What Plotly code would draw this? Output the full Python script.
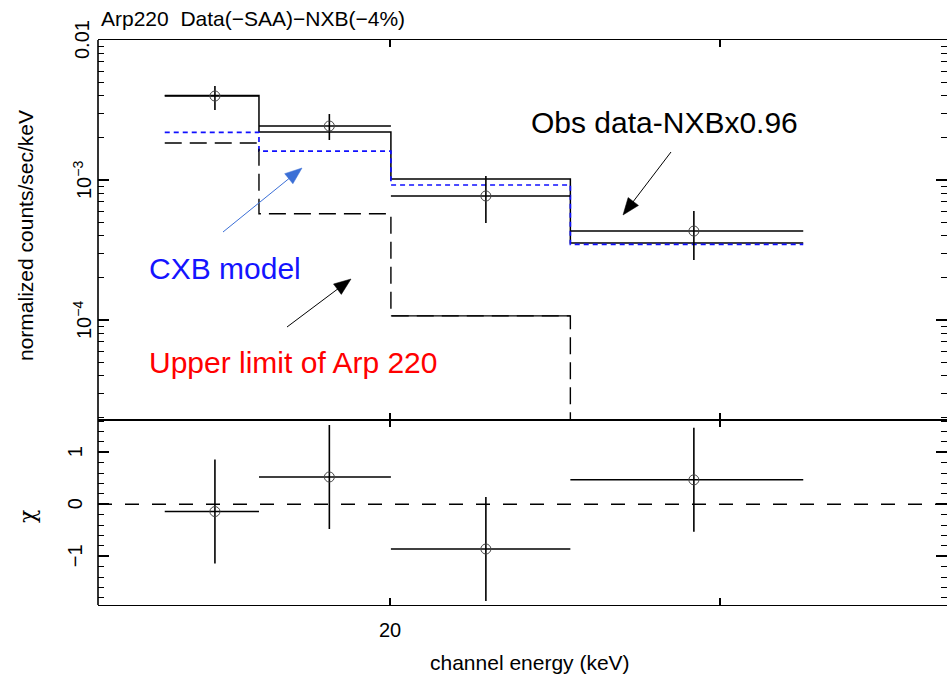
import math
import plotly.graph_objects as go

# ---- spectrum, grouped channels (keV) ----
bin_edges = [10.7, 13.9, 20.05, 33.0, 63.0]
bin_centers = [12.3, 16.9, 26.1, 46.5]

# normalized counts/sec/keV
data_rate = [3.98e-3, 2.43e-3, 7.69e-4, 4.32e-4]
data_hi = [4.69e-3, 2.96e-3, 1.07e-3, 6.01e-4]
data_lo = [3.16e-3, 1.93e-3, 4.93e-4, 2.68e-4]

model_total = [4.01e-3, 2.20e-3, 1.016e-3, 3.55e-4]
model_cxb = [2.19e-3, 1.61e-3, 9.21e-4, 3.47e-4]
arp220_limit = [1.84e-3, 5.74e-4, 1.07e-4, 1.0e-5]

# residuals (chi)
chi = [-0.14, 0.525, -0.86, 0.47]
chi_err = [1.0, 1.0, 1.0, 1.0]

# axis ticks and labels
x_ticks = [20, 50]
x_tick_text = ["20", ""]
y_ticks = [1e-4, 1e-3, 1e-2]
y_tick_text = ["10<sup>\u22124</sup>", "10<sup>\u22123</sup>", "0.01"]
y_minor = [m * 10.0 ** e for e in (-5, -4, -3) for m in range(2, 10)]
chi_ticks = [-1, 0, 1]
chi_tick_text = ["\u22121", "0", "1"]
chi_minor = [k / 5 for k in range(-9, 9) if k % 5 != 0]

W, H = 947, 676


def px(x):
    return x / W


def py(y):
    return 1 - y / H


FONT = "Liberation Sans, Arial, Helvetica, sans-serif"

x_range = [0.9489, 1.9727]          # log10(keV)
y_range = [-4.714, -2.0]            # log10(counts/s/keV)
chi_range = [-1.937, 1.621]


def step_y(vals):
    return list(vals) + [vals[-1]]


x_err_plus = [r - c for c, r in zip(bin_centers, bin_edges[1:])]
x_err_minus = [c - l for c, l in zip(bin_centers, bin_edges[:-1])]

fig = go.Figure()

# total model
fig.add_trace(go.Scatter(
    x=bin_edges, y=step_y(model_total), mode="lines",
    line=dict(shape="hv", color="black", width=1.5),
    xaxis="x", yaxis="y", hoverinfo="skip"))

# CXB component
fig.add_trace(go.Scatter(
    x=bin_edges, y=step_y(model_cxb), mode="lines",
    line=dict(shape="hv", color="#1010ff", width=1.7, dash="5px,4px"),
    xaxis="x", yaxis="y", hoverinfo="skip"))

# Arp 220 upper limit
fig.add_trace(go.Scatter(
    x=bin_edges, y=step_y(arp220_limit), mode="lines",
    line=dict(shape="hv", color="black", width=1.4, dash="17px,8px"),
    xaxis="x", yaxis="y", hoverinfo="skip"))
fig.add_trace(go.Scatter(
    x=bin_edges[2:4], y=[arp220_limit[2]] * 2, mode="lines",
    line=dict(color="black", width=1.3),
    xaxis="x", yaxis="y", hoverinfo="skip"))

# observed spectrum
fig.add_trace(go.Scatter(
    x=bin_centers, y=data_rate, mode="markers",
    marker=dict(symbol="circle-open", size=10, color="#444",
                line=dict(width=1, color="#444")),
    error_x=dict(type="data", symmetric=False, array=x_err_plus,
                 arrayminus=x_err_minus, width=0, thickness=1.5, color="black"),
    error_y=dict(type="data", symmetric=False,
                 array=[h - d for h, d in zip(data_hi, data_rate)],
                 arrayminus=[d - l for d, l in zip(data_rate, data_lo)],
                 width=0, thickness=1.6, color="black"),
    xaxis="x", yaxis="y", hoverinfo="skip"))

# residuals
fig.add_trace(go.Scatter(
    x=bin_centers, y=chi, mode="markers",
    marker=dict(symbol="circle-open", size=10, color="#444",
                line=dict(width=1, color="#444")),
    error_x=dict(type="data", symmetric=False, array=x_err_plus,
                 arrayminus=x_err_minus, width=0, thickness=1.5, color="black"),
    error_y=dict(type="data", array=chi_err, width=0, thickness=1.6, color="black"),
    xaxis="x2", yaxis="y2", hoverinfo="skip"))

axis_common = dict(showgrid=False, zeroline=False, ticks="inside",
                   tickcolor="black", tickwidth=1.5, showticklabels=False)

fig.update_layout(
    width=W, height=H,
    margin=dict(l=0, r=0, t=0, b=0),
    paper_bgcolor="white", plot_bgcolor="white",
    showlegend=False,
    xaxis=dict(type="log", range=x_range, domain=[px(98), 1], anchor="y",
               tickvals=x_ticks, ticklen=7, showline=True, linecolor="black",
               linewidth=1.3, mirror="ticks", **axis_common),
    xaxis2=dict(type="log", range=x_range, domain=[px(98), 1], anchor="y2",
                matches="x", tickvals=x_ticks, ticklen=7, showline=True,
                linecolor="black", linewidth=1.3, mirror="ticks", **axis_common),
    yaxis=dict(type="log", range=y_range, domain=[py(420), py(40)], anchor="x",
               tickvals=y_ticks, ticklen=11, showline=False, mirror="ticks",
               minor=dict(ticks="inside", ticklen=6, tickvals=y_minor,
                          tickcolor="black", tickwidth=1.3),
               **axis_common),
    yaxis2=dict(range=chi_range, domain=[py(605), py(420)], anchor="x2",
                tickvals=chi_ticks, ticklen=11, showline=False, mirror="ticks",
                minor=dict(ticks="inside", ticklen=6, tickvals=chi_minor,
                           tickcolor="black", tickwidth=1.3),
                **axis_common),
)


def arrow_shapes(tail, tip, color, head_len=17, half_w=6.5, width=1.0):
    """Line plus filled triangular head, given pixel positions."""
    (sx, sy), (tx, ty) = tail, tip
    d = math.hypot(tx - sx, ty - sy)
    ux, uy = (tx - sx) / d, (ty - sy) / d
    bx, by = tx - head_len * ux, ty - head_len * uy
    nx, ny = -uy, ux
    p1 = (bx + half_w * nx, by + half_w * ny)
    p2 = (bx - half_w * nx, by - half_w * ny)
    path = "M{},{} L{},{} L{},{} Z".format(
        px(tx), py(ty), px(p1[0]), py(p1[1]), px(p2[0]), py(p2[1]))
    return [
        dict(type="line", xref="paper", yref="paper", x0=px(sx), y0=py(sy),
             x1=px(bx + 2 * ux), y1=py(by + 2 * uy), line=dict(color=color, width=width)),
        dict(type="path", xref="paper", yref="paper", path=path,
             fillcolor=color, line=dict(color=color, width=0.5)),
    ]


shapes = [
    # left frame edge
    dict(type="line", xref="paper", yref="paper", x0=px(98), x1=px(98),
         y0=py(40), y1=py(605), line=dict(color="black", width=1.6)),
    # zero line in residual panel
    dict(type="line", xref="x2 domain", yref="y2", x0=0, x1=1, y0=0, y1=0,
         line=dict(color="black", width=1.4, dash="14px,13px")),
]
shapes += arrow_shapes((223, 232), (302, 168), "#3b6fd6")
shapes += arrow_shapes((287, 327), (351, 279), "black")
shapes += arrow_shapes((671, 152), (623, 215), "black")
fig.update_layout(shapes=shapes)

ann = []
# y tick labels (spectrum)
for v, t in zip(y_ticks, y_tick_text):
    ann.append(dict(text=t, xref="paper", yref="y", x=px(82), y=math.log10(v),
                    textangle=-90, showarrow=False, xanchor="center",
                    yanchor="middle", font=dict(family=FONT, size=20, color="black")))
# y tick labels (residuals)
for v, t in zip(chi_ticks, chi_tick_text):
    ann.append(dict(text=t, xref="paper", yref="y2", x=px(75), y=v,
                    textangle=-90, showarrow=False, xanchor="center",
                    yanchor="middle", font=dict(family=FONT, size=20, color="black")))
# x tick labels
for v, t in zip(x_ticks, x_tick_text):
    if t:
        ann.append(dict(text=t, xref="x2", yref="paper", x=math.log10(v), y=py(630),
                        showarrow=False, xanchor="center", yanchor="middle",
                        font=dict(family=FONT, size=20, color="black")))

ann += [
    dict(text="channel energy (keV)", xref="paper", yref="paper", x=px(530),
         y=py(662), showarrow=False, xanchor="center", yanchor="middle",
         font=dict(family=FONT, size=21, color="black")),
    dict(text="normalized counts/sec/keV", xref="paper", yref="paper", x=px(25),
         y=py(236), textangle=-90, showarrow=False, xanchor="center",
         yanchor="middle", font=dict(family=FONT, size=21, color="black")),
    dict(text="\u03c7", xref="paper", yref="paper", x=px(27), y=py(517),
         textangle=-90, showarrow=False, xanchor="center", yanchor="middle",
         font=dict(family="DejaVu Serif, serif", size=22, color="black")),
    dict(text="Arp220\u00a0\u00a0Data(\u2212SAA)\u2212NXB(\u22124%)", xref="paper",
         yref="paper", x=px(99), y=py(19), showarrow=False, xanchor="left",
         yanchor="middle", font=dict(family=FONT, size=21, color="black")),
    # component labels
    dict(text="Obs data-NXBx0.96", xref="paper", yref="paper", x=px(529),
         y=py(123), showarrow=False, xanchor="left", yanchor="middle",
         font=dict(family=FONT, size=30, color="black")),
    dict(text="CXB model", xref="paper", yref="paper", x=px(147), y=py(268),
         showarrow=False, xanchor="left", yanchor="middle",
         font=dict(family=FONT, size=30, color="#1414ff")),
    dict(text="Upper limit of Arp 220", xref="paper", yref="paper", x=px(147),
         y=py(362), showarrow=False, xanchor="left", yanchor="middle",
         font=dict(family=FONT, size=30, color="#ff0000")),
]
fig.update_layout(annotations=ann)

fig.write_html("out.html")
